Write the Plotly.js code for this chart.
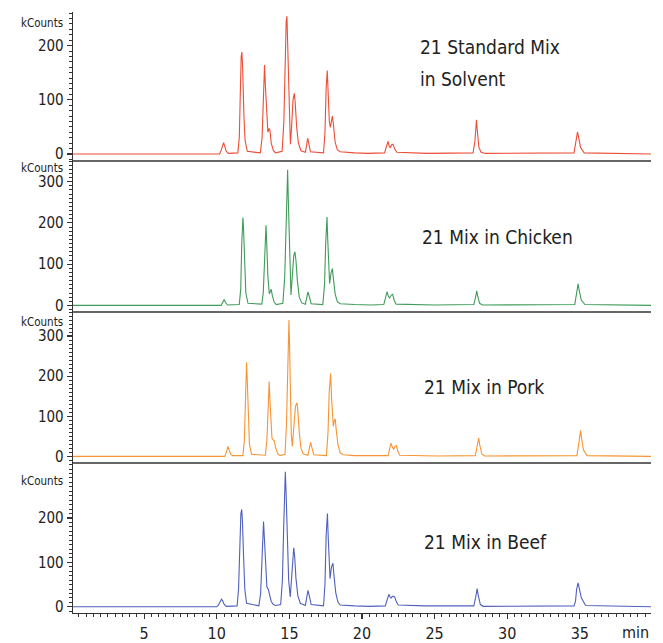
<!DOCTYPE html>
<html>
<head>
<meta charset="utf-8">
<script src="https://cdn.plot.ly/plotly-3.0.1.min.js"></script>
<style>html,body{margin:0;padding:0;background:#fff;}#chart{width:663px;height:643px;}</style>
</head>
<body>
<div id="chart"></div>
<script>
// Retention time (min) / intensity (kCounts) pairs
const solventPoints = [[0,0],[10.2,0],[10.32,8],[10.42,19],[10.47,21],[10.55,14],[10.65,5],[10.8,1],[11.45,2],[11.55,30],[11.62,120],[11.68,180],[11.73,188],[11.78,160],[11.87,70],[11.95,25],[12.1,5],[13.0,2],[13.12,30],[13.2,110],[13.26,160],[13.29,164],[13.34,130],[13.45,60],[13.52,40],[13.6,47],[13.66,44],[13.75,20],[13.9,6],[14.05,2],[14.5,5],[14.62,60],[14.7,170],[14.78,245],[14.83,254],[14.88,210],[14.95,110],[15.02,40],[15.07,18],[15.15,50],[15.25,100],[15.34,112],[15.4,95],[15.5,50],[15.62,20],[15.8,6],[16.1,3],[16.2,18],[16.26,29],[16.32,22],[16.45,4],[17.35,2],[17.45,40],[17.53,120],[17.58,150],[17.61,154],[17.66,120],[17.75,60],[17.82,49],[17.9,66],[17.96,70],[18.03,55],[18.15,22],[18.3,8],[18.5,4],[19.5,2],[20.4,1],[21.55,2],[21.68,15],[21.79,23],[21.88,14],[21.95,12],[22.05,17],[22.14,18],[22.25,9],[22.4,3],[24.5,1],[27.65,2],[27.78,25],[27.85,58],[27.88,63],[27.95,40],[28.05,12],[28.2,3],[28.5,1],[34.6,2],[34.72,20],[34.8,38],[34.84,41],[34.92,30],[35.05,12],[35.3,2],[39.9,0]];
const chickenPoints = [[0,0],[10.3,0],[10.42,8],[10.51,14.5],[10.6,7],[10.75,1],[11.55,2],[11.65,40],[11.72,150],[11.77,205],[11.8,213],[11.85,180],[11.92,90],[12.0,30],[12.15,5],[13.1,3],[13.2,30],[13.28,120],[13.35,185],[13.39,194],[13.44,150],[13.52,70],[13.62,28],[13.7,36],[13.75,39],[13.82,25],[13.95,8],[14.1,2],[14.55,5],[14.68,70],[14.76,200],[14.84,310],[14.88,329],[14.93,250],[15.0,130],[15.06,50],[15.11,25],[15.2,70],[15.3,120],[15.38,130],[15.45,110],[15.55,60],[15.68,20],[15.85,6],[16.1,3],[16.2,20],[16.28,33],[16.35,24],[16.5,4],[17.3,2],[17.42,50],[17.5,150],[17.56,205],[17.59,214],[17.64,160],[17.72,70],[17.77,53],[17.88,80],[17.96,89],[18.03,65],[18.15,28],[18.3,9],[18.5,4],[19.5,2],[20.6,1],[21.5,2],[21.62,20],[21.72,33],[21.82,22],[21.9,18],[22.02,25],[22.11,27],[22.22,12],[22.35,3],[25.0,1],[27.7,2],[27.82,20],[27.9,35],[27.97,22],[28.1,5],[28.3,1],[32.5,1],[34.65,2],[34.77,28],[34.85,50],[34.88,52],[34.95,38],[35.1,13],[35.35,2],[39.9,0]];
const porkPoints = [[0,0],[10.55,0],[10.68,12],[10.77,25],[10.85,16],[10.95,6],[11.1,2],[11.8,2],[11.9,40],[11.97,160],[12.02,225],[12.05,235],[12.1,190],[12.17,100],[12.25,30],[12.4,5],[13.35,3],[13.45,40],[13.53,130],[13.58,180],[13.61,187],[13.66,140],[13.73,70],[13.8,46],[13.9,40],[13.96,39],[14.05,22],[14.2,6],[14.35,2],[14.7,5],[14.8,80],[14.88,220],[14.94,320],[14.97,340],[15.01,280],[15.07,140],[15.13,55],[15.2,25],[15.3,70],[15.42,125],[15.52,134],[15.58,115],[15.68,60],[15.8,20],[15.95,6],[16.28,3],[16.38,22],[16.46,35],[16.53,25],[16.68,4],[17.55,2],[17.66,60],[17.74,160],[17.8,200],[17.84,207],[17.9,150],[17.97,80],[18.02,75],[18.1,90],[18.16,93],[18.23,65],[18.35,28],[18.5,9],[18.7,4],[19.5,2],[20.8,1],[21.8,2],[21.92,22],[22.0,33],[22.1,22],[22.18,18],[22.28,25],[22.37,27],[22.47,12],[22.6,3],[25.2,1],[27.8,2],[27.93,25],[28.0,42],[28.04,46],[28.1,30],[28.25,6],[28.45,1],[31.0,1],[34.8,2],[34.92,30],[35.0,60],[35.05,65],[35.12,45],[35.25,16],[35.5,2],[39.9,0]];
const beefPoints = [[0,0],[10.0,0],[10.12,4],[10.22,12],[10.32,17],[10.4,14],[10.5,6],[10.65,1],[11.4,2],[11.5,40],[11.58,140],[11.66,210],[11.72,219],[11.77,190],[11.85,110],[11.93,40],[12.05,8],[12.9,2],[13.02,30],[13.1,100],[13.17,180],[13.22,192],[13.27,160],[13.35,90],[13.45,45],[13.55,39],[13.62,30],[13.75,12],[13.9,5],[14.05,3],[14.4,5],[14.52,60],[14.6,170],[14.67,290],[14.72,304],[14.77,260],[14.85,150],[14.95,60],[15.06,22],[15.15,70],[15.24,125],[15.3,133],[15.36,115],[15.45,65],[15.58,25],[15.75,8],[16.1,3],[16.2,22],[16.28,37],[16.35,28],[16.5,5],[17.35,2],[17.45,50],[17.53,160],[17.59,205],[17.62,210],[17.67,160],[17.75,80],[17.8,63],[17.9,90],[18.0,98],[18.07,70],[18.2,30],[18.35,10],[18.5,4],[19.5,2],[20.5,1],[21.6,2],[21.75,20],[21.85,28],[21.93,22],[22.0,20],[22.12,24],[22.25,22],[22.38,10],[22.5,4],[24.3,2],[27.7,2],[27.83,22],[27.9,39],[27.93,41],[28.0,26],[28.15,5],[28.35,1],[29.4,1],[34.6,2],[34.7,12],[34.78,40],[34.88,54],[34.95,45],[35.1,20],[35.4,3],[39.9,0]];
const panelNames = ["21 Standard Mix", "21 Mix in Chicken", "21 Mix in Pork", "21 Mix in Beef"];
const yTickSets = [[0, 100, 200], [0, 100, 200, 300], [0, 100, 200, 300], [0, 100, 200]];
const xTickVals = [5, 10, 15, 20, 25, 30, 35];

const font = "DejaVu Sans Condensed, Liberation Sans Narrow, sans-serif";
const colors = ["#ee4d36", "#3f9b58", "#f79434", "#4f60bd"];
const sets = [solventPoints, chickenPoints, porkPoints, beefPoints];
const axes = ["y", "y2", "y3", "y4"];
const traces = sets.map((pts, i) => ({
  x: pts.map(p => p[0]), y: pts.map(p => p[1]),
  type: "scatter", mode: "lines", xaxis: "x", yaxis: axes[i],
  line: {color: colors[i], width: 1.1}, hoverinfo: "skip"
}));

const H = 601, B = 613;
const py = v => (B - v) / H;
const domains = [[py(161), 1], [py(312), py(161)], [py(463), py(312)], [0, py(463)]];
const ranges = [[-13, 262], [-16, 350], [-16.4, 360], [-14, 323.6]];

function yax(i) {
  return {
    domain: domains[i], range: ranges[i], anchor: "x",
    showline: true, linecolor: "#333", linewidth: 1.3,
    ticks: "outside", ticklen: 5, tickwidth: 1.2, tickcolor: "#333",
    tickvals: yTickSets[i], showgrid: false, zeroline: false,
    tickfont: {family: font, size: 15, color: "#222"},
    minor: {dtick: 10, tick0: 0, ticks: "outside", ticklen: 3, tickcolor: "#333", tickwidth: 1, showgrid: false}
  };
}

const txt = (text, px, pyy) => ({text, xref: "paper", yref: "paper", x: (px - 73) / 578, y: py(pyy),
  xanchor: "left", yanchor: "middle", showarrow: false, font: {family: font, size: 19, color: "#222"}});

const layout = {
  width: 663, height: 643,
  margin: {l: 73, r: 12, t: 12, b: 30},
  paper_bgcolor: "#fff", plot_bgcolor: "#fff",
  showlegend: false,
  xaxis: {
    range: [0.1, 39.9], anchor: "y4",
    showline: true, linecolor: "#333", linewidth: 1.3,
    ticks: "outside", ticklen: 5, tickwidth: 1.2, tickcolor: "#333",
    showgrid: false, zeroline: false,
    tickfont: {family: font, size: 16, color: "#222"},
    tickvals: xTickVals,
    minor: {dtick: 0.5, tick0: 0, ticks: "outside", ticklen: 3, tickcolor: "#333", tickwidth: 1, showgrid: false}
  },
  yaxis: yax(0), yaxis2: yax(1), yaxis3: yax(2), yaxis4: yax(3),
  shapes: [161, 312, 463].map(p => ({
    type: "line", xref: "paper", yref: "paper", x0: 0, x1: 1, y0: py(p), y1: py(p),
    line: {color: "#333", width: 1.5}
  })),
  annotations: [
    ...[22.7, 167.5, 321.5, 481].map(p => ({
      text: "kCounts", xref: "paper", yref: "paper", x: 0, y: py(p), xanchor: "right", yanchor: "middle",
      xshift: -8, showarrow: false, font: {family: font, size: 11.5, color: "#222"}
    })),
    txt(panelNames[0], 418, 47),
    txt("in Solvent", 418, 79),
    txt(panelNames[1], 420, 237),
    txt(panelNames[2], 422, 387),
    txt(panelNames[3], 422, 542),
    {text: "min", xref: "paper", yref: "paper", x: 1, y: py(632), xanchor: "right", yanchor: "middle", showarrow: false, font: {family: font, size: 16, color: "#222"}}
  ]
};

Plotly.newPlot("chart", traces, layout, {staticPlot: true, displayModeBar: false});
</script>
</body>
</html>
